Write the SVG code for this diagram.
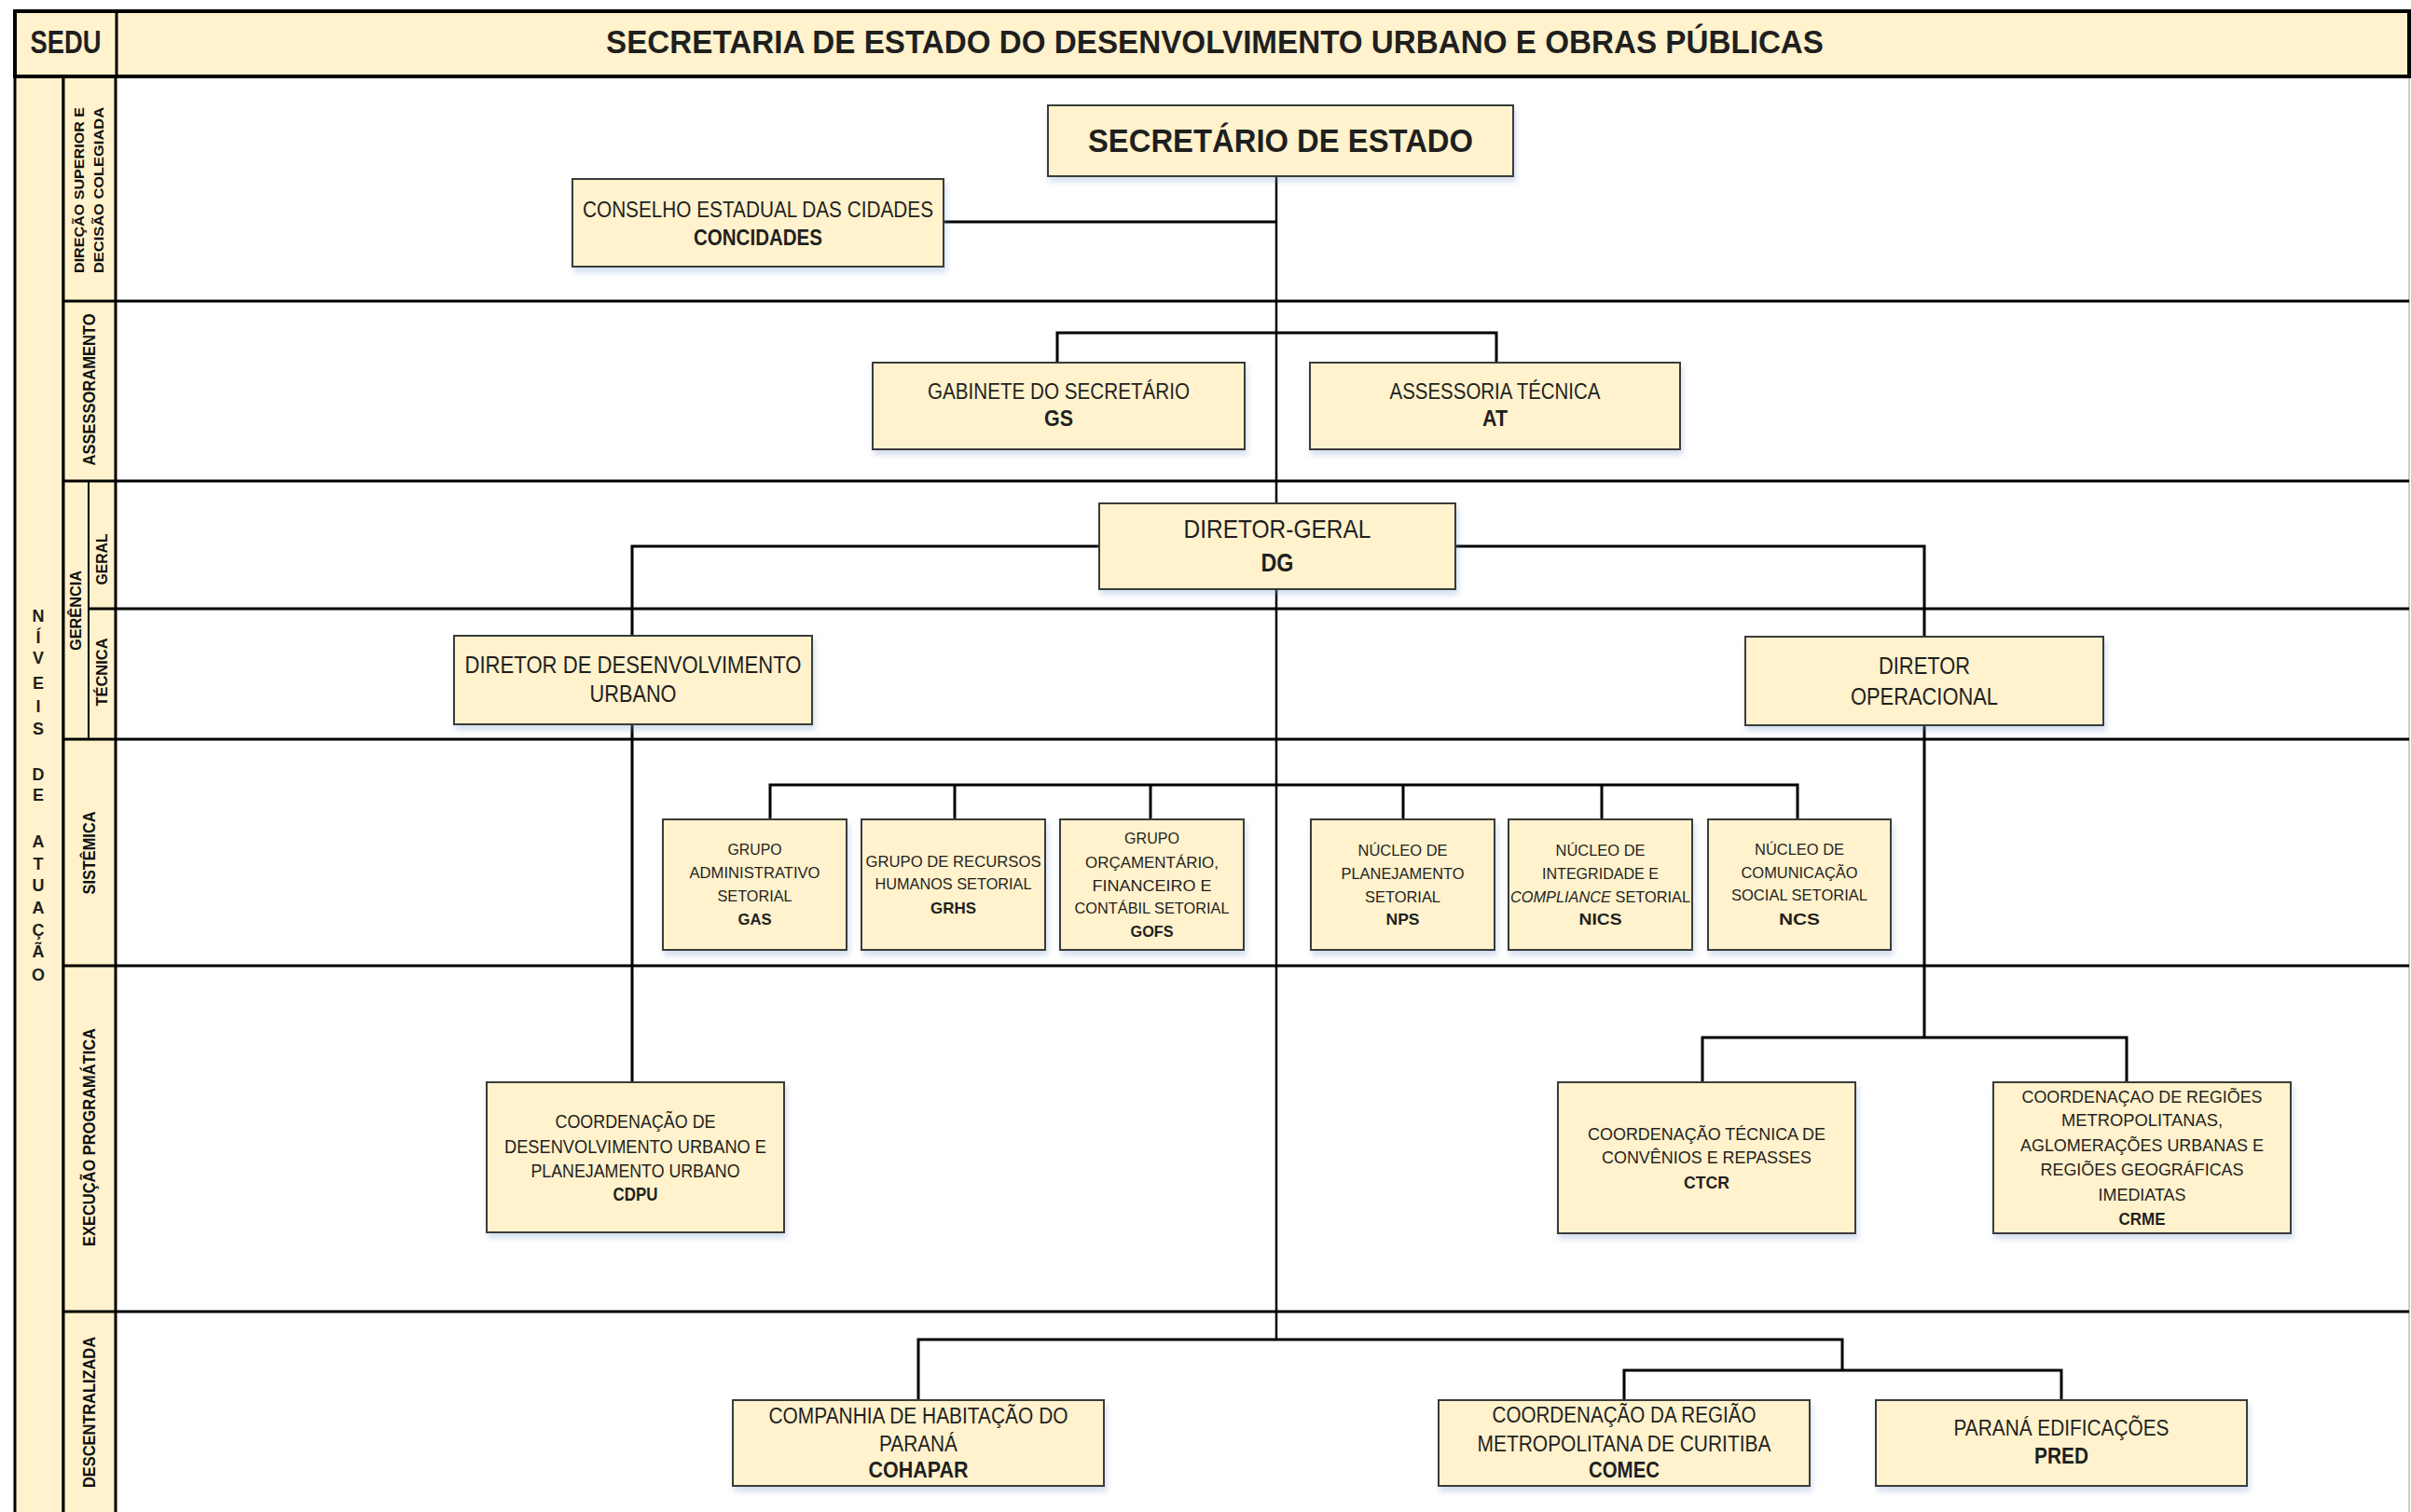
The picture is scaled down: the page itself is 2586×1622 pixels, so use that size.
<svg xmlns="http://www.w3.org/2000/svg" width="2586" height="1622" viewBox="0 0 2586 1622">
<defs>
<filter id="sh" x="-10%" y="-10%" width="125%" height="140%">
<feDropShadow dx="2" dy="5" stdDeviation="3" flood-color="#7f9fcf" flood-opacity="0.35"/>
</filter>
<style>
.box{fill:#FFF2CC;stroke:#3a3a3a;stroke-width:2;filter:url(#sh)}
.col{fill:#FFF2CC;stroke:#000;stroke-width:3}
.t{font-family:"Liberation Sans",Arial,sans-serif;fill:#1f1f1f;text-anchor:middle}
.b{font-weight:bold}
.lane{stroke:#000;stroke-width:3}
.conn{stroke:#000;stroke-width:3;fill:none}
.lbl{font-family:"Liberation Sans",Arial,sans-serif;font-weight:bold;fill:#111;text-anchor:middle;dominant-baseline:central}
.s17{font-size:17px}.s19{font-size:19px}.s20{font-size:20px}.s23{font-size:23px}.s24{font-size:24px}.s25{font-size:25px}.s26{font-size:26px}.s28{font-size:28px}.s35{font-size:35px}
</style>
</defs>
<rect width="2586" height="1622" fill="#fff"/>

<g id="frame">
<rect class="col" x="16" y="82" width="52" height="1560"/>
<rect class="col" x="68" y="82" width="56" height="1560"/>
<line x1="2584" y1="82" x2="2584" y2="1622" stroke="#bbb" stroke-width="1.5"/>
<line class="lane" x1="68" y1="323" x2="2584" y2="323"/>
<line class="lane" x1="68" y1="516" x2="2584" y2="516"/>
<line class="lane" x1="95" y1="653" x2="2584" y2="653"/>
<line class="lane" x1="68" y1="793" x2="2584" y2="793"/>
<line class="lane" x1="68" y1="1036" x2="2584" y2="1036"/>
<line class="lane" x1="68" y1="1407" x2="2584" y2="1407"/>
<line x1="95" y1="516" x2="95" y2="793" stroke="#000" stroke-width="2"/>
<rect x="16" y="12" width="2568" height="70" fill="#FFF2CC" stroke="#000" stroke-width="4"/>
<line x1="125" y1="12" x2="125" y2="82" stroke="#000" stroke-width="3"/>
<text class="t b s35" x="70.5" y="57" textLength="76" lengthAdjust="spacingAndGlyphs">SEDU</text>
<text class="t b s35" x="1303" y="57" textLength="1306" lengthAdjust="spacingAndGlyphs">SECRETARIA DE ESTADO DO DESENVOLVIMENTO URBANO E OBRAS PÚBLICAS</text>
</g>

<g id="lane-labels" class="lbl">
<text transform="translate(84,204) rotate(-90)" font-size="15" textLength="178" lengthAdjust="spacingAndGlyphs">DIREÇÃO SUPERIOR E</text>
<text transform="translate(105,204) rotate(-90)" font-size="15" textLength="178" lengthAdjust="spacingAndGlyphs">DECISÃO COLEGIADA</text>
<text transform="translate(96,418) rotate(-90)" font-size="18" textLength="163" lengthAdjust="spacingAndGlyphs">ASSESSORAMENTO</text>
<text transform="translate(81,655) rotate(-90)" font-size="17" textLength="86" lengthAdjust="spacingAndGlyphs">GERÊNCIA</text>
<text transform="translate(109,600) rotate(-90)" font-size="17" textLength="55" lengthAdjust="spacingAndGlyphs">GERAL</text>
<text transform="translate(109,721) rotate(-90)" font-size="17" textLength="73" lengthAdjust="spacingAndGlyphs">TÉCNICA</text>
<text transform="translate(96,915) rotate(-90)" font-size="18" textLength="89" lengthAdjust="spacingAndGlyphs">SISTÊMICA</text>
<text transform="translate(96,1220) rotate(-90)" font-size="18" textLength="234" lengthAdjust="spacingAndGlyphs">EXECUÇÃO PROGRAMÁTICA</text>
<text transform="translate(96,1515) rotate(-90)" font-size="18" textLength="162" lengthAdjust="spacingAndGlyphs">DESCENTRALIZADA</text>
</g>

<g id="niveis" class="t b" font-size="18">
<text x="41" y="667">N</text>
<text x="41" y="690">Í</text>
<text x="41" y="712">V</text>
<text x="41" y="739">E</text>
<text x="41" y="764">I</text>
<text x="41" y="788">S</text>
<text x="41" y="837">D</text>
<text x="41" y="859">E</text>
<text x="41" y="909">A</text>
<text x="41" y="933">T</text>
<text x="41" y="956">U</text>
<text x="41" y="980">A</text>
<text x="41" y="1004">Ç</text>
<text x="41" y="1027">Ã</text>
<text x="41" y="1052">O</text>
</g>

<g id="connectors" class="conn">
<path d="M1369 189V540M1369 632V1437" stroke-width="2.5"/>
<path d="M1012 238H1369"/>
<path d="M1134 389V357H1605V389"/>
<path d="M1179 586H678V682"/>
<path d="M1561 586H2064V683"/>
<path d="M678 777V1161"/>
<path d="M826 879V842H1928V879M1024 842V879M1234 842V879M1505 842V879M1718 842V879"/>
<path d="M2064 778V1113"/>
<path d="M1826 1161V1113H2281V1161"/>
<path d="M985 1502V1437H1976V1470"/>
<path d="M1742 1502V1470H2211V1502"/>
</g>

<g id="n-secretario">
<rect class="box" x="1124" y="113" width="499" height="76"/>
<text class="t b s35" x="1373.5" y="163" textLength="413" lengthAdjust="spacingAndGlyphs">SECRETÁRIO DE ESTADO</text>
</g>
<g id="n-concidades">
<rect class="box" x="614" y="192" width="398" height="94"/>
<text class="t s24" x="813" y="233" textLength="376" lengthAdjust="spacingAndGlyphs">CONSELHO ESTADUAL DAS CIDADES</text>
<text class="t b s24" x="813" y="263" textLength="138" lengthAdjust="spacingAndGlyphs">CONCIDADES</text>
</g>
<g id="n-gs">
<rect class="box" x="936" y="389" width="399" height="93"/>
<text class="t s23" x="1135.5" y="428" textLength="281" lengthAdjust="spacingAndGlyphs">GABINETE DO SECRETÁRIO</text>
<text class="t b s23" x="1135.5" y="457" textLength="31" lengthAdjust="spacingAndGlyphs">GS</text>
</g>
<g id="n-at">
<rect class="box" x="1405" y="389" width="397" height="93"/>
<text class="t s23" x="1603.5" y="428" textLength="226" lengthAdjust="spacingAndGlyphs">ASSESSORIA TÉCNICA</text>
<text class="t b s23" x="1603.5" y="457" textLength="27" lengthAdjust="spacingAndGlyphs">AT</text>
</g>
<g id="n-dg">
<rect class="box" x="1179" y="540" width="382" height="92"/>
<text class="t s28" x="1370" y="577" textLength="201" lengthAdjust="spacingAndGlyphs">DIRETOR-GERAL</text>
<text class="t b s28" x="1370" y="613" textLength="35" lengthAdjust="spacingAndGlyphs">DG</text>
</g>
<g id="n-ddu">
<rect class="box" x="487" y="682" width="384" height="95"/>
<text class="t s26" x="679" y="722" textLength="361" lengthAdjust="spacingAndGlyphs">DIRETOR DE DESENVOLVIMENTO</text>
<text class="t s26" x="679" y="753" textLength="93" lengthAdjust="spacingAndGlyphs">URBANO</text>
</g>
<g id="n-do">
<rect class="box" x="1872" y="683" width="384" height="95"/>
<text class="t s25" x="2064" y="723" textLength="98" lengthAdjust="spacingAndGlyphs">DIRETOR</text>
<text class="t s25" x="2064" y="756" textLength="158" lengthAdjust="spacingAndGlyphs">OPERACIONAL</text>
</g>

<g id="n-gas">
<rect class="box" x="711" y="879" width="197" height="140"/>
<text class="t s17" x="809.5" y="917" textLength="58" lengthAdjust="spacingAndGlyphs">GRUPO</text>
<text class="t s17" x="809.5" y="942" textLength="140" lengthAdjust="spacingAndGlyphs">ADMINISTRATIVO</text>
<text class="t s17" x="809.5" y="967" textLength="80" lengthAdjust="spacingAndGlyphs">SETORIAL</text>
<text class="t b s17" x="809.5" y="992" textLength="36" lengthAdjust="spacingAndGlyphs">GAS</text>
</g>
<g id="n-grhs">
<rect class="box" x="924" y="879" width="197" height="140"/>
<text class="t s17" x="1022.5" y="930" textLength="188" lengthAdjust="spacingAndGlyphs">GRUPO DE RECURSOS</text>
<text class="t s17" x="1022.5" y="954" textLength="168" lengthAdjust="spacingAndGlyphs">HUMANOS SETORIAL</text>
<text class="t b s17" x="1022.5" y="980" textLength="49" lengthAdjust="spacingAndGlyphs">GRHS</text>
</g>
<g id="n-gofs">
<rect class="box" x="1137" y="879" width="197" height="140"/>
<text class="t s17" x="1235.5" y="905" textLength="59" lengthAdjust="spacingAndGlyphs">GRUPO</text>
<text class="t s17" x="1235.5" y="931" textLength="143" lengthAdjust="spacingAndGlyphs">ORÇAMENTÁRIO,</text>
<text class="t s17" x="1235.5" y="956" textLength="128" lengthAdjust="spacingAndGlyphs">FINANCEIRO E</text>
<text class="t s17" x="1235.5" y="980" textLength="166" lengthAdjust="spacingAndGlyphs">CONTÁBIL SETORIAL</text>
<text class="t b s17" x="1235.5" y="1005" textLength="46" lengthAdjust="spacingAndGlyphs">GOFS</text>
</g>
<g id="n-nps">
<rect class="box" x="1406" y="879" width="197" height="140"/>
<text class="t s17" x="1504.5" y="918" textLength="96" lengthAdjust="spacingAndGlyphs">NÚCLEO DE</text>
<text class="t s17" x="1504.5" y="943" textLength="132" lengthAdjust="spacingAndGlyphs">PLANEJAMENTO</text>
<text class="t s17" x="1504.5" y="968" textLength="81" lengthAdjust="spacingAndGlyphs">SETORIAL</text>
<text class="t b s17" x="1504.5" y="992" textLength="36" lengthAdjust="spacingAndGlyphs">NPS</text>
</g>
<g id="n-nics">
<rect class="box" x="1618" y="879" width="197" height="140"/>
<text class="t s17" x="1716.5" y="918" textLength="96" lengthAdjust="spacingAndGlyphs">NÚCLEO DE</text>
<text class="t s17" x="1716.5" y="943" textLength="125" lengthAdjust="spacingAndGlyphs">INTEGRIDADE E</text>
<text class="t s17" x="1716.5" y="968" textLength="193" lengthAdjust="spacingAndGlyphs"><tspan font-style="italic">COMPLIANCE</tspan> SETORIAL</text>
<text class="t b s17" x="1716.5" y="992" textLength="46" lengthAdjust="spacingAndGlyphs">NICS</text>
</g>
<g id="n-ncs">
<rect class="box" x="1832" y="879" width="196" height="140"/>
<text class="t s17" x="1930" y="917" textLength="96" lengthAdjust="spacingAndGlyphs">NÚCLEO DE</text>
<text class="t s17" x="1930" y="942" textLength="125" lengthAdjust="spacingAndGlyphs">COMUNICAÇÃO</text>
<text class="t s17" x="1930" y="966" textLength="146" lengthAdjust="spacingAndGlyphs">SOCIAL SETORIAL</text>
<text class="t b s17" x="1930" y="992" textLength="44" lengthAdjust="spacingAndGlyphs">NCS</text>
</g>

<g id="n-cdpu">
<rect class="box" x="522" y="1161" width="319" height="161"/>
<text class="t s20" x="681.5" y="1210" textLength="172" lengthAdjust="spacingAndGlyphs">COORDENAÇÃO DE</text>
<text class="t s20" x="681.5" y="1237" textLength="281" lengthAdjust="spacingAndGlyphs">DESENVOLVIMENTO URBANO E</text>
<text class="t s20" x="681.5" y="1263" textLength="224" lengthAdjust="spacingAndGlyphs">PLANEJAMENTO URBANO</text>
<text class="t b s20" x="681.5" y="1288" textLength="48" lengthAdjust="spacingAndGlyphs">CDPU</text>
</g>
<g id="n-ctcr">
<rect class="box" x="1671" y="1161" width="319" height="162"/>
<text class="t s19" x="1830.5" y="1223" textLength="255" lengthAdjust="spacingAndGlyphs">COORDENAÇÃO TÉCNICA DE</text>
<text class="t s19" x="1830.5" y="1248" textLength="225" lengthAdjust="spacingAndGlyphs">CONVÊNIOS E REPASSES</text>
<text class="t b s19" x="1830.5" y="1275" textLength="49" lengthAdjust="spacingAndGlyphs">CTCR</text>
</g>
<g id="n-crme">
<rect class="box" x="2138" y="1161" width="319" height="162"/>
<text class="t s19" x="2297.5" y="1183" textLength="258" lengthAdjust="spacingAndGlyphs">COORDENAÇAO DE REGIÕES</text>
<text class="t s19" x="2297.5" y="1208" textLength="173" lengthAdjust="spacingAndGlyphs">METROPOLITANAS,</text>
<text class="t s19" x="2297.5" y="1235" textLength="261" lengthAdjust="spacingAndGlyphs">AGLOMERAÇÕES URBANAS E</text>
<text class="t s19" x="2297.5" y="1261" textLength="218" lengthAdjust="spacingAndGlyphs">REGIÕES GEOGRÁFICAS</text>
<text class="t s19" x="2297.5" y="1288" textLength="94" lengthAdjust="spacingAndGlyphs">IMEDIATAS</text>
<text class="t b s19" x="2297.5" y="1314" textLength="50" lengthAdjust="spacingAndGlyphs">CRME</text>
</g>

<g id="n-cohapar">
<rect class="box" x="786" y="1502" width="398" height="92"/>
<text class="t s23" x="985" y="1527" textLength="321" lengthAdjust="spacingAndGlyphs">COMPANHIA DE HABITAÇÃO DO</text>
<text class="t s23" x="985" y="1557" textLength="84" lengthAdjust="spacingAndGlyphs">PARANÁ</text>
<text class="t b s23" x="985" y="1585" textLength="107" lengthAdjust="spacingAndGlyphs">COHAPAR</text>
</g>
<g id="n-comec">
<rect class="box" x="1543" y="1502" width="398" height="92"/>
<text class="t s23" x="1742" y="1526" textLength="283" lengthAdjust="spacingAndGlyphs">COORDENAÇÃO DA REGIÃO</text>
<text class="t s23" x="1742" y="1557" textLength="315" lengthAdjust="spacingAndGlyphs">METROPOLITANA DE CURITIBA</text>
<text class="t b s23" x="1742" y="1585" textLength="76" lengthAdjust="spacingAndGlyphs">COMEC</text>
</g>
<g id="n-pred">
<rect class="box" x="2012" y="1502" width="398" height="92"/>
<text class="t s23" x="2211" y="1540" textLength="231" lengthAdjust="spacingAndGlyphs">PARANÁ EDIFICAÇÕES</text>
<text class="t b s23" x="2211" y="1570" textLength="58" lengthAdjust="spacingAndGlyphs">PRED</text>
</g>
</svg>
